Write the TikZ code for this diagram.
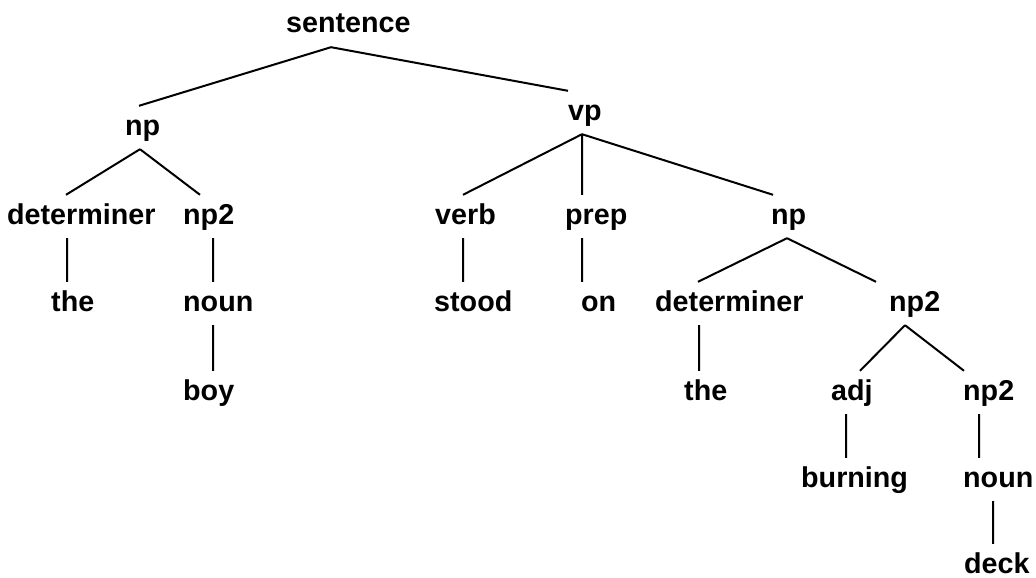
\documentclass[tikz,border=0pt]{standalone}
\usepackage{fontspec}
\setmainfont{Liberation Sans}
\usepackage{tikz}

\tikzset{
	word/.style={font=\bfseries\fontsize{28.7pt}{34pt}\selectfont, anchor=base west,
		inner xsep=0pt, inner ysep=8pt, text height=21pt, text depth=6pt},
	branch/.style={line width=2pt}
}

\begin{document}
\begin{tikzpicture}[x=1pt,y=-1pt]
				\useasboundingbox (0,0) rectangle (1036,578);
				\node[word] (sentence) at (286,33) {sentence};
				\node[word] (np1) at (125,135) {np};
				\node[word] (vp) at (568,120) {vp};

				% subject
				\node[word] (det1) at (7,224) {determiner};
				\node[word] (np21) at (183,224) {np2};
				\node[word] (the1) at (51,311) {the};
				\node[word] (noun1) at (183,311) {noun};
				\node[word] (boy) at (183,400) {boy};

				% predicate
				\node[word] (verb) at (435,224) {verb};
				\node[word] (prep) at (565,224) {prep};
				\node[word] (np2) at (771,224) {np};
				\node[word] (stood) at (434,311) {stood};
				\node[word] (on) at (581,311) {on};
				\node[word] (det2) at (655,311) {determiner};
				\node[word] (np22) at (889,311) {np2};
				\node[word] (the2) at (684,400) {the};
				\node[word] (adj) at (831,400) {adj};
				\node[word] (np23) at (963,400) {np2};
				\node[word] (burning) at (801,487) {burning};
				\node[word] (noun2) at (963,487) {noun};
				\node[word] (deck) at (964,573) {deck};

				\draw[branch]
				([xshift=45pt]sentence.south west) -- ([xshift=14pt]np1.north west)
				([xshift=45pt]sentence.south west) -- (vp.north west)
				([xshift=15pt]np1.south west) -- ([xshift=59pt]det1.north west)
				([xshift=15pt]np1.south west) -- ([xshift=17pt]np21.north west)
				([xshift=60pt]det1.south west) -- ([xshift=16pt]the1.north west)
				([xshift=30pt]np21.south west) -- ([xshift=30pt]noun1.north west)
				([xshift=30pt]noun1.south west) -- ([xshift=30pt]boy.north west)
				([xshift=14pt]vp.south west) -- ([xshift=28pt]verb.north west)
				([xshift=14pt]vp.south west) -- ([xshift=17pt]prep.north west)
				([xshift=14pt]vp.south west) -- ([xshift=2pt]np2.north west)
				([xshift=28pt]verb.south west) -- ([xshift=29pt]stood.north west)
				([xshift=17pt]prep.south west) -- ([xshift=1pt]on.north west)
				([xshift=16pt]np2.south west) -- ([xshift=43pt]det2.north west)
				([xshift=16pt]np2.south west) -- ([xshift=-13pt]np22.north west)
				([xshift=44pt]det2.south west) -- ([xshift=15pt]the2.north west)
				([xshift=16pt]np22.south west) -- ([xshift=29pt]adj.north west)
				([xshift=16pt]np22.south west) -- ([xshift=1pt]np23.north west)
				([xshift=15pt]adj.south west) -- ([xshift=45pt]burning.north west)
				([xshift=16pt]np23.south west) -- ([xshift=16pt]noun2.north west)
				([xshift=30pt]noun2.south west) -- ([xshift=29pt]deck.north west);
			\end{tikzpicture}
\end{document}
